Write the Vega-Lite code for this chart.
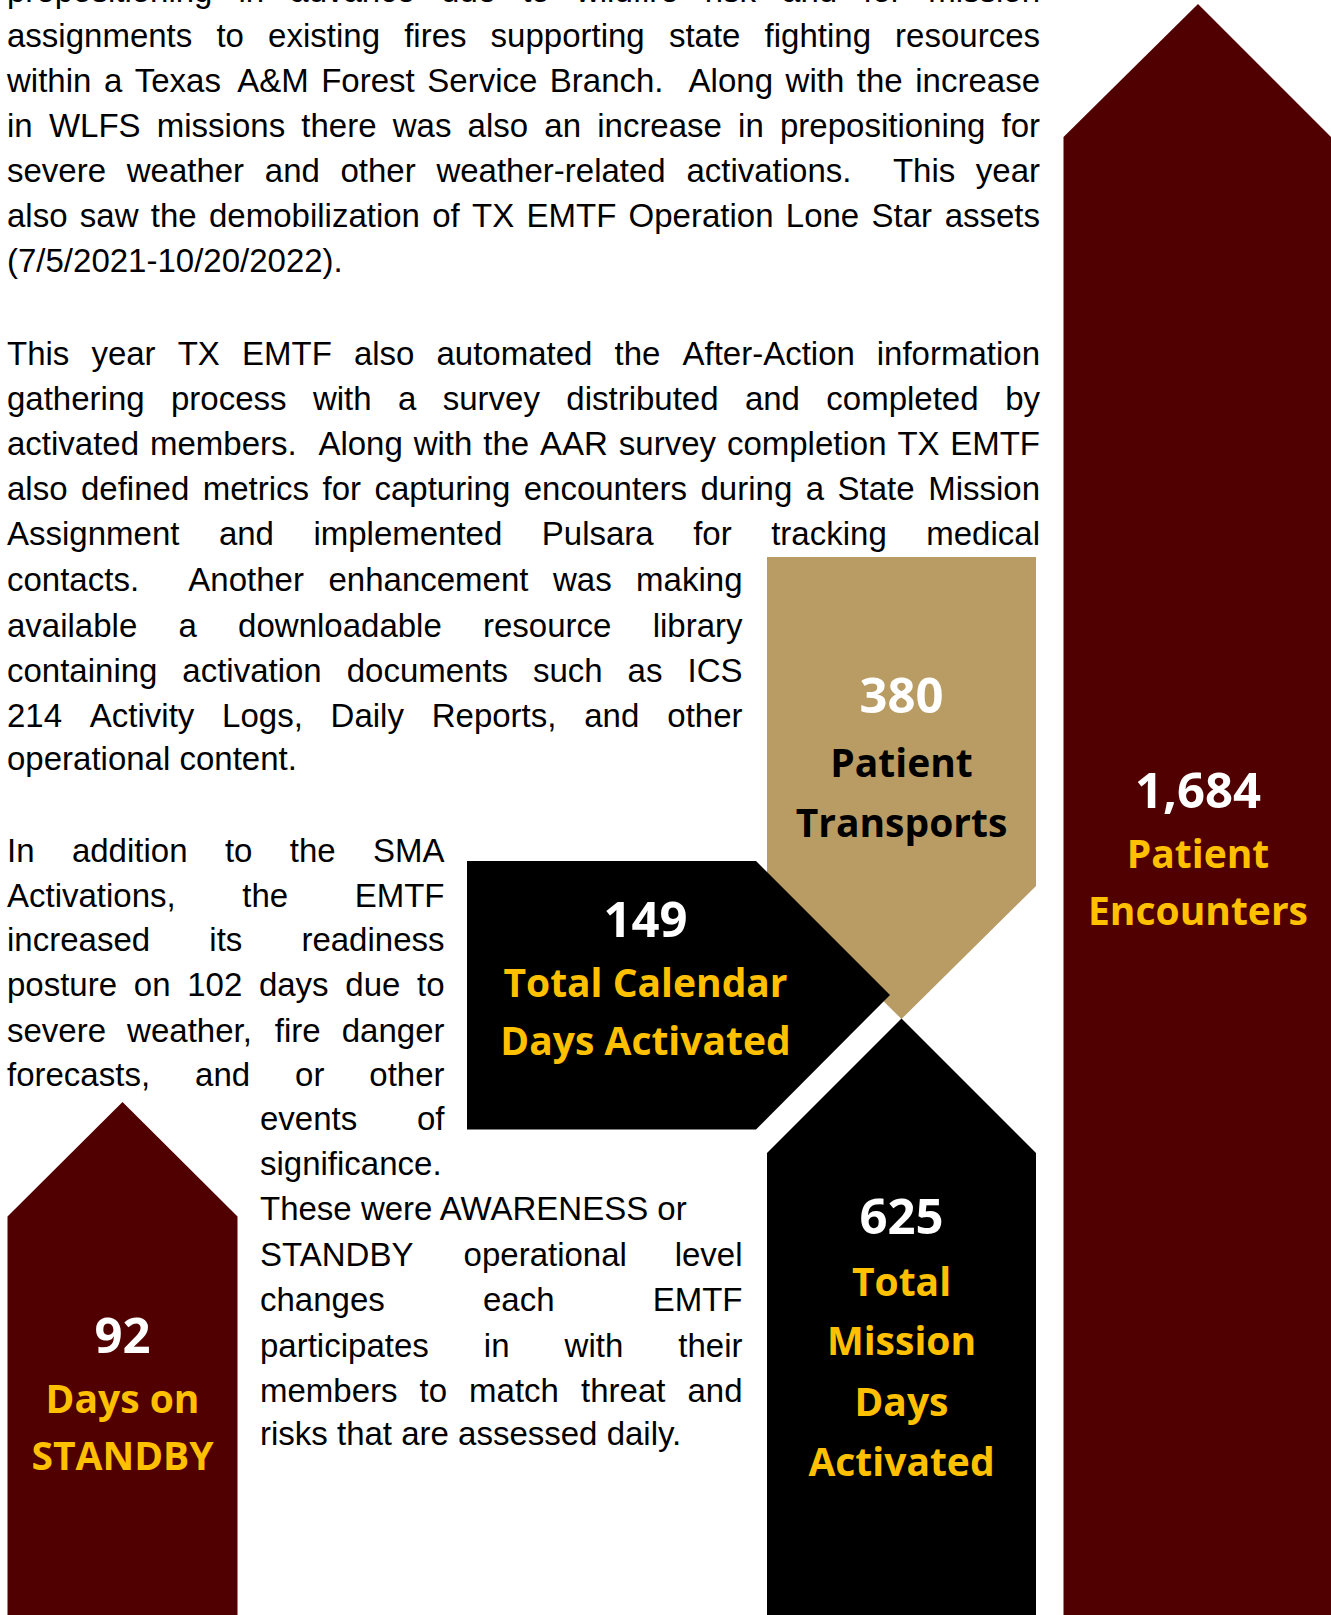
{
  "$schema": "https://vega.github.io/schema/vega-lite/v6.json",
  "width": 1331,
  "height": 1615,
  "autosize": {"type": "none"},
  "padding": 0,
  "background": "white",
  "config": {"view": {"stroke": null}},
  "datasets": {
    "shapes": [
      {"shape": "bigMaroon", "x": 1063.5, "y": 137, "y2": 1615},
      {"shape": "bigMaroon", "x": 1198, "y": 4, "y2": 1615},
      {"shape": "bigMaroon", "x": 1331.5, "y": 137.5, "y2": 1615},
      {"shape": "gold", "x": 767, "y": 557, "y2": 886},
      {"shape": "gold", "x": 901.5, "y": 557, "y2": 1019},
      {"shape": "gold", "x": 1036, "y": 557, "y2": 886},
      {"shape": "black625", "x": 767, "y": 1153, "y2": 1615},
      {"shape": "black625", "x": 901.5, "y": 1018.5, "y2": 1615},
      {"shape": "black625", "x": 1036, "y": 1153, "y2": 1615},
      {"shape": "smallMaroon", "x": 7.5, "y": 1216.5, "y2": 1615},
      {"shape": "smallMaroon", "x": 122.5, "y": 1102, "y2": 1615},
      {"shape": "smallMaroon", "x": 237.5, "y": 1216.5, "y2": 1615}
    ],
    "arrowRight": [
      {"y": 861, "x": 467, "x2": 756},
      {"y": 995, "x": 467, "x2": 890},
      {"y": 1129.5, "x": 467, "x2": 756}
    ],
    "body": [
      {"y": 2, "x": 7, "t": "prepositioning", "a": "L"},
      {"y": 2, "x": 238.5, "t": "in", "a": "L"},
      {"y": 2, "x": 290.3, "t": "advance", "a": "L"},
      {"y": 2, "x": 441.1, "t": "due", "a": "L"},
      {"y": 2, "x": 522.2, "t": "to", "a": "L"},
      {"y": 2, "x": 575.9, "t": "wildfire", "a": "L"},
      {"y": 2, "x": 704.7, "t": "risk", "a": "L"},
      {"y": 2, "x": 782.1, "t": "and", "a": "L"},
      {"y": 2, "x": 863.3, "t": "for", "a": "L"},
      {"y": 2, "x": 1040, "t": "mission", "a": "R"},

      {"y": 46.7, "x": 7, "t": "assignments", "a": "L"},
      {"y": 46.7, "x": 216.4, "t": "to", "a": "L"},
      {"y": 46.7, "x": 268.1, "t": "existing", "a": "L"},
      {"y": 46.7, "x": 404.2, "t": "fires", "a": "L"},
      {"y": 46.7, "x": 490.6, "t": "supporting", "a": "L"},
      {"y": 46.7, "x": 668.9, "t": "state", "a": "L"},
      {"y": 46.7, "x": 764.6, "t": "fighting", "a": "L"},
      {"y": 46.7, "x": 1040, "t": "resources", "a": "R"},

      {"y": 91.7, "x": 7, "t": "within", "a": "L"},
      {"y": 91.7, "x": 103.9, "t": "a", "a": "L"},
      {"y": 91.7, "x": 134.7, "t": "Texas", "a": "L"},
      {"y": 91.7, "x": 237.2, "t": "A&M", "a": "L"},
      {"y": 91.7, "x": 321.2, "t": "Forest", "a": "L"},
      {"y": 91.7, "x": 427.3, "t": "Service", "a": "L"},
      {"y": 91.7, "x": 549.8, "t": "Branch.", "a": "L"},
      {"y": 91.7, "x": 688.6, "t": "Along", "a": "L"},
      {"y": 91.7, "x": 785.6, "t": "with", "a": "L"},
      {"y": 91.7, "x": 856.8, "t": "the", "a": "L"},
      {"y": 91.7, "x": 1040, "t": "increase", "a": "R"},

      {"y": 136.7, "x": 7, "t": "in", "a": "L"},
      {"y": 136.7, "x": 48.9, "t": "WLFS", "a": "L"},
      {"y": 136.7, "x": 156.8, "t": "missions", "a": "L"},
      {"y": 136.7, "x": 301.3, "t": "there", "a": "L"},
      {"y": 136.7, "x": 392.7, "t": "was", "a": "L"},
      {"y": 136.7, "x": 467.6, "t": "also", "a": "L"},
      {"y": 136.7, "x": 544.3, "t": "an", "a": "L"},
      {"y": 136.7, "x": 597.2, "t": "increase", "a": "L"},
      {"y": 136.7, "x": 738.1, "t": "in", "a": "L"},
      {"y": 136.7, "x": 780, "t": "prepositioning", "a": "L"},
      {"y": 136.7, "x": 1040, "t": "for", "a": "R"},

      {"y": 181.8, "x": 7, "t": "severe", "a": "L"},
      {"y": 181.8, "x": 126.7, "t": "weather", "a": "L"},
      {"y": 181.8, "x": 264.8, "t": "and", "a": "L"},
      {"y": 181.8, "x": 340.5, "t": "other", "a": "L"},
      {"y": 181.8, "x": 436.4, "t": "weather-related", "a": "L"},
      {"y": 181.8, "x": 686.4, "t": "activations.", "a": "L"},
      {"y": 181.8, "x": 892.9, "t": "This", "a": "L"},
      {"y": 181.8, "x": 1040, "t": "year", "a": "R"},

      {"y": 227, "x": 7, "t": "also", "a": "L"},
      {"y": 227, "x": 79.8, "t": "saw", "a": "L"},
      {"y": 227, "x": 150.8, "t": "the", "a": "L"},
      {"y": 227, "x": 209, "t": "demobilization", "a": "L"},
      {"y": 227, "x": 432.2, "t": "of", "a": "L"},
      {"y": 227, "x": 472, "t": "TX", "a": "L"},
      {"y": 227, "x": 526.5, "t": "EMTF", "a": "L"},
      {"y": 227, "x": 628.6, "t": "Operation", "a": "L"},
      {"y": 227, "x": 785.8, "t": "Lone", "a": "L"},
      {"y": 227, "x": 871.5, "t": "Star", "a": "L"},
      {"y": 227, "x": 1040, "t": "assets", "a": "R"},

      {"y": 272, "x": 7, "t": "(7/5/2021-10/20/2022).", "a": "L"},

      {"y": 365, "x": 7, "t": "This", "a": "L"},
      {"y": 365, "x": 91.4, "t": "year", "a": "L"},
      {"y": 365, "x": 177.7, "t": "TX", "a": "L"},
      {"y": 365, "x": 242, "t": "EMTF", "a": "L"},
      {"y": 365, "x": 353.9, "t": "also", "a": "L"},
      {"y": 365, "x": 436.5, "t": "automated", "a": "L"},
      {"y": 365, "x": 614.5, "t": "the", "a": "L"},
      {"y": 365, "x": 682.5, "t": "After-Action", "a": "L"},
      {"y": 365, "x": 1040, "t": "information", "a": "R"},

      {"y": 410, "x": 7, "t": "gathering", "a": "L"},
      {"y": 410, "x": 171, "t": "process", "a": "L"},
      {"y": 410, "x": 312.9, "t": "with", "a": "L"},
      {"y": 410, "x": 398, "t": "a", "a": "L"},
      {"y": 410, "x": 442.7, "t": "survey", "a": "L"},
      {"y": 410, "x": 566.3, "t": "distributed", "a": "L"},
      {"y": 410, "x": 744.9, "t": "and", "a": "L"},
      {"y": 410, "x": 826.3, "t": "completed", "a": "L"},
      {"y": 410, "x": 1040, "t": "by", "a": "R"},

      {"y": 455, "x": 7, "t": "activated", "a": "L"},
      {"y": 455, "x": 150, "t": "members.", "a": "L"},
      {"y": 455, "x": 318.4, "t": "Along", "a": "L"},
      {"y": 455, "x": 413.7, "t": "with", "a": "L"},
      {"y": 455, "x": 483.3, "t": "the", "a": "L"},
      {"y": 455, "x": 540.1, "t": "AAR", "a": "L"},
      {"y": 455, "x": 618.8, "t": "survey", "a": "L"},
      {"y": 455, "x": 726.9, "t": "completion", "a": "L"},
      {"y": 455, "x": 897.4, "t": "TX", "a": "L"},
      {"y": 455, "x": 1040, "t": "EMTF", "a": "R"},

      {"y": 500, "x": 7, "t": "also", "a": "L"},
      {"y": 500, "x": 81, "t": "defined", "a": "L"},
      {"y": 500, "x": 202.7, "t": "metrics", "a": "L"},
      {"y": 500, "x": 322.5, "t": "for", "a": "L"},
      {"y": 500, "x": 374.5, "t": "capturing", "a": "L"},
      {"y": 500, "x": 523.7, "t": "encounters", "a": "L"},
      {"y": 500, "x": 700.5, "t": "during", "a": "L"},
      {"y": 500, "x": 805.7, "t": "a", "a": "L"},
      {"y": 500, "x": 837.5, "t": "State", "a": "L"},
      {"y": 500, "x": 1040, "t": "Mission", "a": "R"},

      {"y": 545, "x": 7, "t": "Assignment", "a": "L"},
      {"y": 545, "x": 218.9, "t": "and", "a": "L"},
      {"y": 545, "x": 313.4, "t": "implemented", "a": "L"},
      {"y": 545, "x": 541.8, "t": "Pulsara", "a": "L"},
      {"y": 545, "x": 693.2, "t": "for", "a": "L"},
      {"y": 545, "x": 771.2, "t": "tracking", "a": "L"},
      {"y": 545, "x": 1040, "t": "medical", "a": "R"},

      {"y": 591, "x": 7, "t": "contacts.", "a": "L"},
      {"y": 591, "x": 188.3, "t": "Another", "a": "L"},
      {"y": 591, "x": 328.5, "t": "enhancement", "a": "L"},
      {"y": 591, "x": 553, "t": "was", "a": "L"},
      {"y": 591, "x": 742.5, "t": "making", "a": "R"},

      {"y": 636.7, "x": 7, "t": "available", "a": "L"},
      {"y": 636.7, "x": 178.5, "t": "a", "a": "L"},
      {"y": 636.7, "x": 238.1, "t": "downloadable", "a": "L"},
      {"y": 636.7, "x": 483, "t": "resource", "a": "L"},
      {"y": 636.7, "x": 742.5, "t": "library", "a": "R"},

      {"y": 681.7, "x": 7, "t": "containing", "a": "L"},
      {"y": 681.7, "x": 182.3, "t": "activation", "a": "L"},
      {"y": 681.7, "x": 346.7, "t": "documents", "a": "L"},
      {"y": 681.7, "x": 533, "t": "such", "a": "L"},
      {"y": 681.7, "x": 627.6, "t": "as", "a": "L"},
      {"y": 681.7, "x": 742.5, "t": "ICS", "a": "R"},

      {"y": 726.7, "x": 7, "t": "214", "a": "L"},
      {"y": 726.7, "x": 89.8, "t": "Activity", "a": "L"},
      {"y": 726.7, "x": 222.1, "t": "Logs,", "a": "L"},
      {"y": 726.7, "x": 330.6, "t": "Daily", "a": "L"},
      {"y": 726.7, "x": 431.7, "t": "Reports,", "a": "L"},
      {"y": 726.7, "x": 584.2, "t": "and", "a": "L"},
      {"y": 726.7, "x": 742.5, "t": "other", "a": "R"},

      {"y": 770, "x": 7, "t": "operational content.", "a": "L"},

      {"y": 861.7, "x": 7, "t": "In", "a": "L"},
      {"y": 861.7, "x": 71.9, "t": "addition", "a": "L"},
      {"y": 861.7, "x": 224.9, "t": "to", "a": "L"},
      {"y": 861.7, "x": 289.8, "t": "the", "a": "L"},
      {"y": 861.7, "x": 444.5, "t": "SMA", "a": "R"},

      {"y": 906.7, "x": 7, "t": "Activations,", "a": "L"},
      {"y": 906.7, "x": 242.3, "t": "the", "a": "L"},
      {"y": 906.7, "x": 444.5, "t": "EMTF", "a": "R"},

      {"y": 950.7, "x": 7, "t": "increased", "a": "L"},
      {"y": 950.7, "x": 209.3, "t": "its", "a": "L"},
      {"y": 950.7, "x": 444.5, "t": "readiness", "a": "R"},

      {"y": 996, "x": 7, "t": "posture", "a": "L"},
      {"y": 996, "x": 133.8, "t": "on", "a": "L"},
      {"y": 996, "x": 187.2, "t": "102", "a": "L"},
      {"y": 996, "x": 258.9, "t": "days", "a": "L"},
      {"y": 996, "x": 345.3, "t": "due", "a": "L"},
      {"y": 996, "x": 444.5, "t": "to", "a": "R"},

      {"y": 1041.7, "x": 7, "t": "severe", "a": "L"},
      {"y": 1041.7, "x": 127.1, "t": "weather,", "a": "L"},
      {"y": 1041.7, "x": 274.8, "t": "fire", "a": "L"},
      {"y": 1041.7, "x": 444.5, "t": "danger", "a": "R"},

      {"y": 1086, "x": 7, "t": "forecasts,", "a": "L"},
      {"y": 1086, "x": 195.1, "t": "and", "a": "L"},
      {"y": 1086, "x": 295.1, "t": "or", "a": "L"},
      {"y": 1086, "x": 444.5, "t": "other", "a": "R"},

      {"y": 1130, "x": 260, "t": "events", "a": "L"},
      {"y": 1130, "x": 444.5, "t": "of", "a": "R"},

      {"y": 1175, "x": 260, "t": "significance.", "a": "L"},

      {"y": 1220, "x": 260, "t": "These were AWARENESS or", "a": "L"},

      {"y": 1265.7, "x": 260, "t": "STANDBY", "a": "L"},
      {"y": 1265.7, "x": 463.6, "t": "operational", "a": "L"},
      {"y": 1265.7, "x": 742.5, "t": "level", "a": "R"},

      {"y": 1310.7, "x": 260, "t": "changes", "a": "L"},
      {"y": 1310.7, "x": 483, "t": "each", "a": "L"},
      {"y": 1310.7, "x": 742.5, "t": "EMTF", "a": "R"},

      {"y": 1356.7, "x": 260, "t": "participates", "a": "L"},
      {"y": 1356.7, "x": 483.8, "t": "in", "a": "L"},
      {"y": 1356.7, "x": 564.6, "t": "with", "a": "L"},
      {"y": 1356.7, "x": 742.5, "t": "their", "a": "R"},

      {"y": 1401.7, "x": 260, "t": "members", "a": "L"},
      {"y": 1401.7, "x": 419.6, "t": "to", "a": "L"},
      {"y": 1401.7, "x": 469.1, "t": "match", "a": "L"},
      {"y": 1401.7, "x": 581.1, "t": "threat", "a": "L"},
      {"y": 1401.7, "x": 742.5, "t": "and", "a": "R"},

      {"y": 1445, "x": 260, "t": "risks that are assessed daily.", "a": "L"}
    ],
    "labels": [
      {"kind": "number", "x": 1198, "y": 808, "t": "1,684"},
      {"kind": "number", "x": 901.5, "y": 713, "t": "380"},
      {"kind": "number", "x": 645.5, "y": 937, "t": "149"},
      {"kind": "number", "x": 901.5, "y": 1234, "t": "625"},
      {"kind": "number", "x": 122.5, "y": 1353, "t": "92"},
      {"kind": "gold", "x": 1198, "y": 868, "t": "Patient"},
      {"kind": "gold", "x": 1198, "y": 925, "t": "Encounters"},
      {"kind": "gold", "x": 645.5, "y": 997, "t": "Total Calendar"},
      {"kind": "gold", "x": 645.5, "y": 1055, "t": "Days Activated"},
      {"kind": "gold", "x": 901.5, "y": 1296, "t": "Total"},
      {"kind": "gold", "x": 901.5, "y": 1355, "t": "Mission"},
      {"kind": "gold", "x": 901.5, "y": 1416, "t": "Days"},
      {"kind": "gold", "x": 901.5, "y": 1476, "t": "Activated"},
      {"kind": "gold", "x": 122.5, "y": 1413, "t": "Days on"},
      {"kind": "gold", "x": 122.5, "y": 1470, "t": "STANDBY"},
      {"kind": "dark", "x": 901.5, "y": 777, "t": "Patient"},
      {"kind": "dark", "x": 901.5, "y": 837, "t": "Transports"}
    ]
  },
  "layer": [
    {
      "data": {"name": "shapes"},
      "transform": [{"filter": "datum.shape === 'bigMaroon'"}],
      "mark": {"type": "area", "color": "#500000"},
      "encoding": {
        "x": {"field": "x", "type": "quantitative", "scale": {"domain": [0, 1331], "nice": false, "zero": false}, "axis": null},
        "y": {"field": "y", "type": "quantitative", "scale": {"domain": [0, 1615], "nice": false, "zero": false, "reverse": true}, "axis": null},
        "y2": {"field": "y2"}
      }
    },
    {
      "data": {"name": "shapes"},
      "transform": [{"filter": "datum.shape === 'gold'"}],
      "mark": {"type": "area", "color": "#B89C64"},
      "encoding": {
        "x": {"field": "x", "type": "quantitative", "scale": {"domain": [0, 1331], "nice": false, "zero": false}, "axis": null},
        "y": {"field": "y", "type": "quantitative", "scale": {"domain": [0, 1615], "nice": false, "zero": false, "reverse": true}, "axis": null},
        "y2": {"field": "y2"}
      }
    },
    {
      "data": {"name": "arrowRight"},
      "mark": {"type": "area", "orient": "horizontal", "color": "#000000"},
      "encoding": {
        "y": {"field": "y", "type": "quantitative", "scale": {"domain": [0, 1615], "nice": false, "zero": false, "reverse": true}, "axis": null},
        "x": {"field": "x", "type": "quantitative", "scale": {"domain": [0, 1331], "nice": false, "zero": false}, "axis": null},
        "x2": {"field": "x2"}
      }
    },
    {
      "data": {"name": "shapes"},
      "transform": [{"filter": "datum.shape === 'black625'"}],
      "mark": {"type": "area", "color": "#000000"},
      "encoding": {
        "x": {"field": "x", "type": "quantitative", "scale": {"domain": [0, 1331], "nice": false, "zero": false}, "axis": null},
        "y": {"field": "y", "type": "quantitative", "scale": {"domain": [0, 1615], "nice": false, "zero": false, "reverse": true}, "axis": null},
        "y2": {"field": "y2"}
      }
    },
    {
      "data": {"name": "shapes"},
      "transform": [{"filter": "datum.shape === 'smallMaroon'"}],
      "mark": {"type": "area", "color": "#500000"},
      "encoding": {
        "x": {"field": "x", "type": "quantitative", "scale": {"domain": [0, 1331], "nice": false, "zero": false}, "axis": null},
        "y": {"field": "y", "type": "quantitative", "scale": {"domain": [0, 1615], "nice": false, "zero": false, "reverse": true}, "axis": null},
        "y2": {"field": "y2"}
      }
    },
    {
      "data": {"name": "body"},
      "transform": [{"filter": "datum.a === 'L'"}],
      "mark": {"type": "text", "align": "left", "baseline": "alphabetic", "font": "Liberation Sans", "fontSize": 33, "color": "#000000"},
      "encoding": {
        "x": {"field": "x", "type": "quantitative", "scale": {"domain": [0, 1331], "nice": false, "zero": false}, "axis": null},
        "y": {"field": "y", "type": "quantitative", "scale": {"domain": [0, 1615], "nice": false, "zero": false, "reverse": true}, "axis": null},
        "text": {"field": "t"}
      }
    },
    {
      "data": {"name": "body"},
      "transform": [{"filter": "datum.a === 'R'"}],
      "mark": {"type": "text", "align": "right", "baseline": "alphabetic", "font": "Liberation Sans", "fontSize": 33, "color": "#000000"},
      "encoding": {
        "x": {"field": "x", "type": "quantitative", "scale": {"domain": [0, 1331], "nice": false, "zero": false}, "axis": null},
        "y": {"field": "y", "type": "quantitative", "scale": {"domain": [0, 1615], "nice": false, "zero": false, "reverse": true}, "axis": null},
        "text": {"field": "t"}
      }
    },
    {
      "data": {"name": "labels"},
      "transform": [{"filter": "datum.kind === 'number'"}],
      "mark": {"type": "text", "align": "center", "baseline": "alphabetic", "font": "Open Sans", "fontWeight": "bold", "fontSize": 49, "color": "#FFFFFF"},
      "encoding": {
        "x": {"field": "x", "type": "quantitative", "scale": {"domain": [0, 1331], "nice": false, "zero": false}, "axis": null},
        "y": {"field": "y", "type": "quantitative", "scale": {"domain": [0, 1615], "nice": false, "zero": false, "reverse": true}, "axis": null},
        "text": {"field": "t"}
      }
    },
    {
      "data": {"name": "labels"},
      "transform": [{"filter": "datum.kind === 'gold'"}],
      "mark": {"type": "text", "align": "center", "baseline": "alphabetic", "font": "Open Sans", "fontWeight": "bold", "fontSize": 39, "color": "#FFC000"},
      "encoding": {
        "x": {"field": "x", "type": "quantitative", "scale": {"domain": [0, 1331], "nice": false, "zero": false}, "axis": null},
        "y": {"field": "y", "type": "quantitative", "scale": {"domain": [0, 1615], "nice": false, "zero": false, "reverse": true}, "axis": null},
        "text": {"field": "t"}
      }
    },
    {
      "data": {"name": "labels"},
      "transform": [{"filter": "datum.kind === 'dark'"}],
      "mark": {"type": "text", "align": "center", "baseline": "alphabetic", "font": "Open Sans", "fontWeight": "bold", "fontSize": 39, "color": "#000000"},
      "encoding": {
        "x": {"field": "x", "type": "quantitative", "scale": {"domain": [0, 1331], "nice": false, "zero": false}, "axis": null},
        "y": {"field": "y", "type": "quantitative", "scale": {"domain": [0, 1615], "nice": false, "zero": false, "reverse": true}, "axis": null},
        "text": {"field": "t"}
      }
    }
  ]
}
